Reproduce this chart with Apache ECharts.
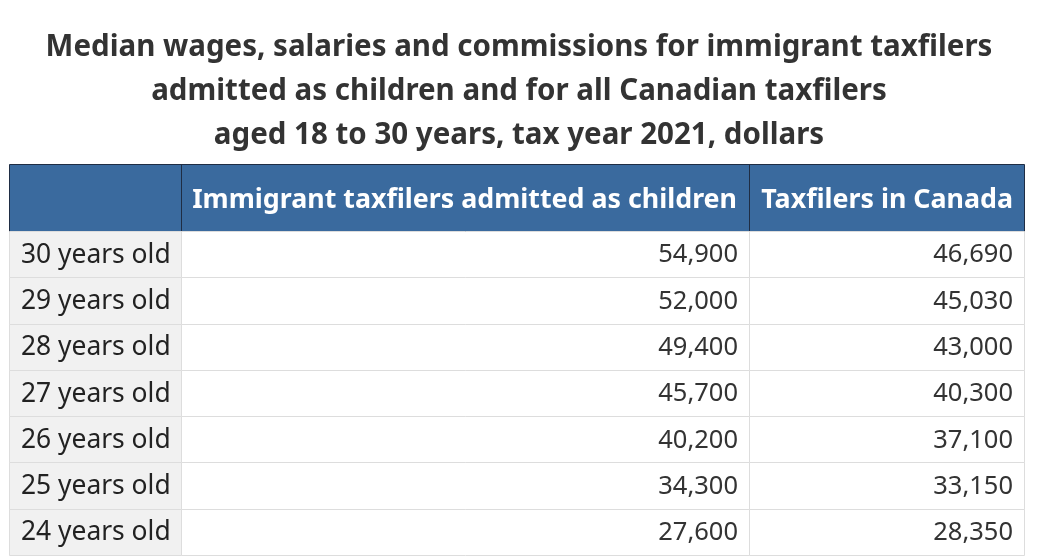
<!DOCTYPE html>
<html>
<head>
<meta charset="utf-8">
<script src="https://cdn.jsdelivr.net/npm/echarts@6/dist/echarts.min.js"></script>
<style>
html,body{margin:0;padding:0;background:#fff;}
#chart{width:1038px;height:556px;}
</style>
</head>
<body>
<div id="chart"></div>
<script>
const titleLines = [
  'Median wages, salaries and commissions for immigrant taxfilers',
  'admitted as children and for all Canadian taxfilers',
  'aged 18 to 30 years, tax year 2021, dollars'
];
const headers = ['', 'Immigrant taxfilers admitted as children', 'Taxfilers in Canada'];
const rowLabels = ['30 years old', '29 years old', '28 years old', '27 years old', '26 years old', '25 years old', '24 years old'];
const immigrant = [54900, 52000, 49400, 45700, 40200, 34300, 27600];
const canada = [46690, 45030, 43000, 40300, 37100, 33150, 28350];

// layout (pixels)
const TL = 9, TW = 1016, HEAD_TOP = 164, HEAD_H = 67, BODY_TOP = 231, BODY_H = 324;
const COLS = [0, 172, 740, 1016]; // column boundaries relative to table left
const FONT = '"Noto Sans", "Open Sans", sans-serif';
const fmt = v => v.toLocaleString('en-US');

const chart = echarts.init(document.getElementById('chart'), null, {renderer: 'canvas'});

const headerGraphics = [
  {type: 'rect', shape: {x: TL + 0.5, y: HEAD_TOP + 0.5, width: TW - 1, height: HEAD_H}, style: {fill: '#3a6a9e', stroke: '#1f2d44', lineWidth: 1}},
  {type: 'line', shape: {x1: TL + COLS[1] + 0.5, y1: HEAD_TOP, x2: TL + COLS[1] + 0.5, y2: HEAD_TOP + HEAD_H}, style: {stroke: '#1f2d44', lineWidth: 1}},
  {type: 'line', shape: {x1: TL + COLS[2] + 0.5, y1: HEAD_TOP, x2: TL + COLS[2] + 0.5, y2: HEAD_TOP + HEAD_H}, style: {stroke: '#1f2d44', lineWidth: 1}}
];
for (let c = 1; c < headers.length; c++) {
  headerGraphics.push({
    type: 'text',
    style: {
      x: TL + COLS[c + 1] - 12, y: HEAD_TOP + HEAD_H / 2 + 3,
      text: headers[c], textAlign: 'right', textVerticalAlign: 'middle',
      fill: '#ffffff', font: 'bold 26.8px ' + FONT
    }
  });
}

const option = {
  backgroundColor: '#ffffff',
  animation: false,
  title: {
    text: titleLines.join('\n'),
    left: 'center', top: 21,
    textStyle: {fontFamily: FONT, fontSize: 29.5, fontWeight: 'bold', color: '#333333', lineHeight: 44}
  },
  grid: {left: TL, top: BODY_TOP, width: TW, height: BODY_H},
  xAxis: {type: 'value', min: 0, max: TW, show: false},
  yAxis: {type: 'category', data: rowLabels, inverse: true, show: false},
  graphic: headerGraphics,
  series: [{
    type: 'custom',
    encode: {y: 0, x: 1},
    data: rowLabels.map((r, i) => [i, immigrant[i], canada[i]]),
    renderItem: function (params, api) {
      const idx = api.value(0);
      const cy = api.coord([0, idx])[1];
      const h = api.size([0, 1])[1];
      const top = Math.round(cy - h / 2);
      const bot = Math.round(cy + h / 2);
      const xs = COLS.map(c => Math.round(api.coord([c, idx])[0]));
      const children = [];
      children.push({type: 'rect', shape: {x: xs[0] + 0.5, y: top + 0.5, width: xs[1] - xs[0], height: bot - top}, style: {fill: '#f1f1f1', stroke: '#dddddd', lineWidth: 1}});
      children.push({type: 'rect', shape: {x: xs[1] + 0.5, y: top + 0.5, width: xs[2] - xs[1], height: bot - top}, style: {fill: '#ffffff', stroke: '#dddddd', lineWidth: 1}});
      children.push({type: 'rect', shape: {x: xs[2] + 0.5, y: top + 0.5, width: xs[3] - xs[2] - 1, height: bot - top}, style: {fill: '#ffffff', stroke: '#dddddd', lineWidth: 1}});
      children.push({type: 'text', style: {x: xs[0] + 12, y: cy + 1, text: rowLabels[idx], textAlign: 'left', textVerticalAlign: 'middle', fill: '#222222', font: '26.4px ' + FONT}});
      children.push({type: 'text', style: {x: xs[2] - 11, y: cy + 1, text: fmt(api.value(1)), textAlign: 'right', textVerticalAlign: 'middle', fill: '#333333', font: '25.5px ' + FONT}});
      children.push({type: 'text', style: {x: xs[3] - 12, y: cy + 1, text: fmt(api.value(2)), textAlign: 'right', textVerticalAlign: 'middle', fill: '#333333', font: '25.5px ' + FONT}});
      return {type: 'group', children: children};
    }
  }]
};
chart.setOption(option);
</script>
</body>
</html>
